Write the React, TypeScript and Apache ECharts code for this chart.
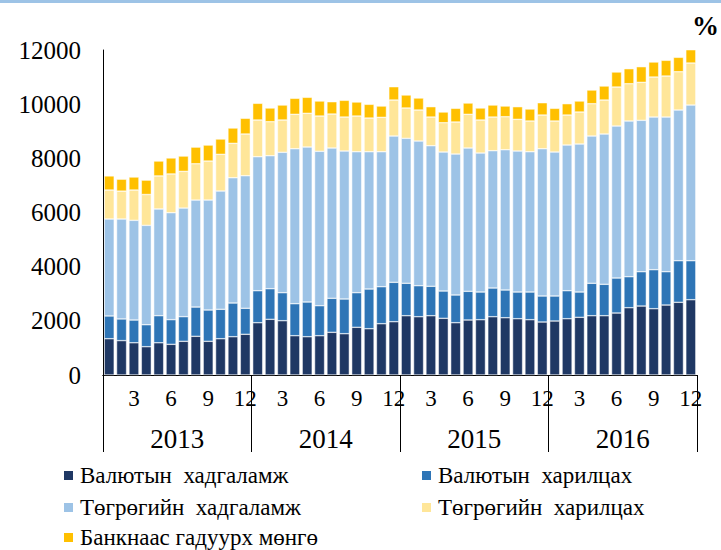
import React, { useEffect, useRef } from "react";
import * as echarts from "echarts";

const years = ["2013", "2014", "2015", "2016"];
const months = ["1", "2", "3", "4", "5", "6", "7", "8", "9", "10", "11", "12"];
const categories = years.flatMap((y) => months.map((m) => `${y}-${m}`));

const seriesNames = [
  "Валютын  хадгаламж",
  "Валютын  харилцах",
  "Төгрөгийн  хадгаламж",
  "Төгрөгийн  харилцах",
  "Банкнаас гадуурх мөнгө",
];
const colors = ["#1F3864", "#2E75B6", "#9DC3E6", "#FFE699", "#FFC000"];

const fxDeposits = [
  1340, 1270, 1190, 1045, 1190, 1133, 1244, 1429, 1244, 1340, 1414, 1503,
  1931, 2056, 2005, 1451, 1414, 1451, 1576, 1525, 1761, 1709, 1894, 1968,
  2189, 2152, 2189, 2093, 1931, 2031, 2042, 2152, 2115, 2079, 2042, 1957,
  1994, 2079, 2130, 2189, 2189, 2289, 2485, 2547, 2448, 2584, 2684, 2780,
];
const fxCurrent = [
  840, 800, 840, 810, 1000, 910, 910, 1080, 1156, 1086, 1244, 960,
  1181, 1130, 1034, 1181, 1281, 1108, 1256, 1281, 1278, 1466, 1366, 1454,
  1197, 1145, 1086, 1008, 1023, 1059, 1022, 1060, 1023, 985, 1022, 960,
  923, 1033, 934, 1197, 1160, 1292, 1144, 1267, 1440, 1230, 1536, 1440,
];
const mntDeposits = [
  3580, 3690, 3680, 3670, 3940, 3950, 4010, 3950, 4060, 4367, 4626, 4895,
  4948, 4911, 5183, 5723, 5723, 5700, 5549, 5464, 5205, 5069, 4984, 5402,
  5352, 5342, 5191, 5132, 5205, 5291, 5132, 5070, 5180, 5206, 5180, 5438,
  5316, 5380, 5465, 5438, 5549, 5612, 5749, 5589, 5637, 5711, 5564, 5748,
];
const mntCurrent = [
  1070, 1030, 1120, 1140, 1220, 1430, 1355, 1340, 1440, 1355, 1270, 1540,
  1355, 1255, 1193, 1270, 1244, 1303, 1255, 1255, 1318, 1244, 1270, 1329,
  1120, 1145, 1059, 1082, 1182, 1244, 1219, 1243, 1219, 1170, 1134, 1244,
  1145, 1107, 1181, 1193, 1255, 1440, 1377, 1403, 1477, 1514, 1414, 1551,
];
const cashOutside = [
  520, 440, 480, 530, 550, 590, 565, 615, 590, 565, 565, 580,
  616, 506, 553, 591, 591, 554, 454, 617, 517, 506, 417, 491,
  480, 443, 381, 395, 505, 417, 443, 443, 394, 466, 443, 454,
  468, 418, 406, 505, 517, 554, 554, 577, 554, 580, 532, 517,
];
const seriesData = [fxDeposits, fxCurrent, mntDeposits, mntCurrent, cashOutside];

const FONT = "'Liberation Serif', 'Times New Roman', serif";

// legend slot positions (left, top) for each series
const legendSlots: [number, number][] = [
  [62, 464],
  [420, 464],
  [62, 496],
  [420, 496],
  [62, 526],
];

export default function App() {
  const ref = useRef<HTMLDivElement>(null);
  useEffect(() => {
    if (!ref.current) return;
    const chart = echarts.init(ref.current, null, { renderer: "svg" });
    const legendText = {
      fontFamily: FONT,
      fontSize: 23,
      lineHeight: 20,
      color: "#000",
      padding: [0, 0, 0, 1],
    };
    chart.setOption({
      animation: false,
      backgroundColor: "#fff",
      grid: { left: 103, right: 24, top: 50, bottom: 175, containLabel: false },
      xAxis: [
        {
          type: "category",
          data: categories,
          position: "bottom",
          axisLine: { show: true, lineStyle: { color: "#000", width: 1 } },
          axisTick: { show: false },
          axisLabel: {
            interval: (idx: number) => (idx + 1) % 3 === 0,
            formatter: (v: string) => v.split("-")[1],
            fontFamily: FONT,
            fontSize: 23,
            color: "#000",
            margin: 12,
          },
        },
        {
          type: "category",
          data: years,
          position: "bottom",
          axisLine: { show: true, lineStyle: { color: "#000", width: 1 } },
          axisTick: { show: true, length: 77, lineStyle: { color: "#000", width: 1 } },
          axisLabel: { fontFamily: FONT, fontSize: 27, color: "#000", margin: 50 },
          splitLine: { show: false },
        },
      ],
      yAxis: {
        type: "value",
        min: 0,
        max: 12000,
        interval: 2000,
        axisLine: { show: true, lineStyle: { color: "#000", width: 1 } },
        axisTick: { show: false },
        splitLine: { show: false },
        axisLabel: {
          fontFamily: FONT,
          fontSize: 25,
          color: "#000",
          margin: 22,
          formatter: (v: number) => String(v),
        },
      },
      legend: seriesNames.map((name, i) => ({
        orient: "horizontal",
        left: legendSlots[i][0],
        top: legendSlots[i][1],
        padding: 0,
        itemWidth: 11,
        itemHeight: 11,
        icon: "rect",
        data: [name],
        textStyle: legendText,
      })),
      graphic: [
        { type: "rect", left: 0, top: 0, shape: { width: 721, height: 3 }, style: { fill: "#9DC3E6" } },
        {
          type: "text",
          right: 2,
          top: 12,
          style: { text: "%", font: `bold 27px ${FONT}`, fill: "#000" },
        },
      ],
      series: seriesNames.map((name, i) => ({
        name,
        type: "bar",
        stack: "total",
        xAxisIndex: 0,
        data: seriesData[i],
        barWidth: 10,
        itemStyle: { color: colors[i], borderColor: "#fff", borderWidth: 0.5 },
      })),
    });
    return () => chart.dispose();
  }, []);
  return <div ref={ref} style={{ position: "fixed", left: 0, top: 0, width: 721, height: 550 }} />;
}
